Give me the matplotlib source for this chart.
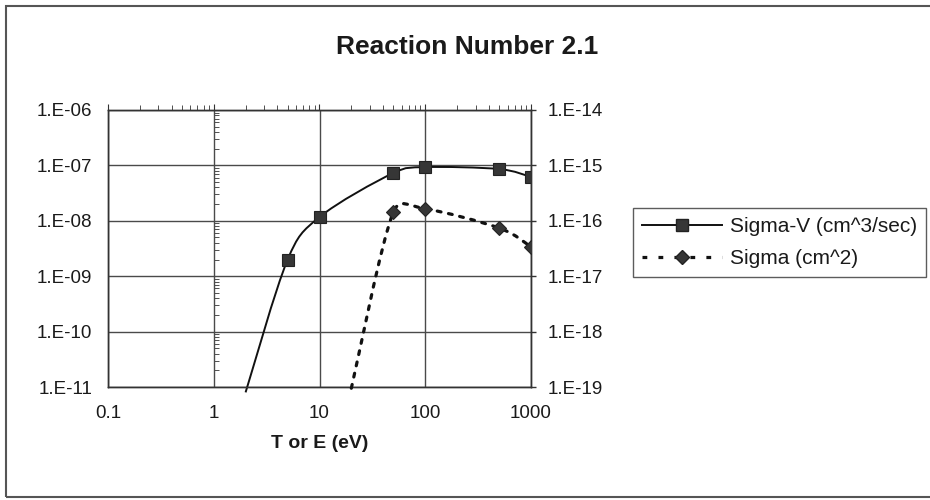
import numpy as np
import matplotlib
matplotlib.use("Agg")
import matplotlib.pyplot as plt
from matplotlib.path import Path
from matplotlib.patches import PathPatch, Rectangle
from matplotlib.lines import Line2D
from matplotlib.ticker import LogLocator, NullFormatter, FixedLocator, FixedFormatter

plt.rcParams['font.family'] = ['Liberation Sans', 'DejaVu Sans']

# ---- data ----
title = "Reaction Number 2.1"
xlabel = "T or E (eV)"
sv_label = "Sigma-V (cm^3/sec)"
s_label = "Sigma (cm^2)"

T_sv = [2, 5, 10, 50, 100, 500, 1000]
sigma_v = [8e-12, 2.0e-9, 1.17e-8, 7.3e-8, 9.3e-8, 8.6e-8, 6.2e-8]

T_s = [20, 50, 100, 500, 1000]
sigma = [9.5e-20, 1.45e-16, 1.65e-16, 7.4e-17, 3.4e-17]

x_ticks = [0.1, 1, 10, 100, 1000]
x_ticklabels = ["0.1", "1", "10", "100", "1000"]
yl_ticks = [1e-11, 1e-10, 1e-9, 1e-8, 1e-7, 1e-6]
yl_ticklabels = ["1.E-11", "1.E-10", "1.E-09", "1.E-08", "1.E-07", "1.E-06"]
yr_ticks = [1e-19, 1e-18, 1e-17, 1e-16, 1e-15, 1e-14]
yr_ticklabels = ["1.E-19", "1.E-18", "1.E-17", "1.E-16", "1.E-15", "1.E-14"]

W, H = 930, 500
fig = plt.figure(figsize=(W / 100, H / 100), dpi=100)

ax_l, ax_r, ax_t, ax_b = 108, 531, 110, 387
ax = fig.add_axes([ax_l / W, 1 - ax_b / H, (ax_r - ax_l) / W, (ax_b - ax_t) / H])
ax2 = ax.twinx()

txt_color = "#1a1a1a"
spine_color = "#333333"

ax.set_xscale('log')
ax.set_yscale('log')
ax2.set_yscale('log')
ax.set_xlim(x_ticks[0], x_ticks[-1])
ax.set_ylim(yl_ticks[0], yl_ticks[-1])
ax2.set_ylim(yr_ticks[0], yr_ticks[-1])

# px per decade for smoothing (screen-space Bezier like Excel)
sx = (ax_r - ax_l) / np.log10(x_ticks[-1] / x_ticks[0])
sy = (ax_b - ax_t) / np.log10(yl_ticks[-1] / yl_ticks[0])


def smooth_path(xs, ys):
    P = np.column_stack([np.log10(xs) * sx, np.log10(ys) * sy])
    n = len(P)
    T = np.zeros_like(P)
    for i in range(n):
        if i == 0:
            T[i] = (P[1] - P[0]) / 6
        elif i == n - 1:
            T[i] = (P[-1] - P[-2]) / 6
        else:
            T[i] = (P[i + 1] - P[i - 1]) / 6
    verts = [P[0]]
    codes = [Path.MOVETO]
    for i in range(n - 1):
        seg = np.linalg.norm(P[i + 1] - P[i])
        t1 = T[i].copy()
        t2 = T[i + 1].copy()
        for t in (t1, t2):
            l = np.linalg.norm(t)
            if l > seg / 2:
                t *= (seg / 2) / l
        verts += [P[i] + t1, P[i + 1] - t2, P[i + 1]]
        codes += [Path.CURVE4] * 3
    V = np.array(verts)
    V = np.column_stack([10 ** (V[:, 0] / sx), 10 ** (V[:, 1] / sy)])
    return Path(V, codes)


line_color = "#111111"
mk_color = "#363636"

# Sigma-V (left axis)
p1 = PathPatch(smooth_path(T_sv, sigma_v), facecolor='none', edgecolor=line_color,
               lw=1.4, clip_on=False, zorder=3)
ax.add_patch(p1)
lo, hi = ax.get_ylim()
xs_m = [x for x, y in zip(T_sv, sigma_v) if lo <= y <= hi]
ys_m = [y for y in sigma_v if lo <= y <= hi]
ax.plot(xs_m, ys_m, linestyle='none', marker='s', markersize=9.2,
        markerfacecolor=mk_color, markeredgecolor='#222222', markeredgewidth=0.8, zorder=4)

# Sigma (right axis)
p2 = PathPatch(smooth_path(T_s, sigma), facecolor='none', edgecolor=line_color,
               lw=2.3, linestyle=(0, (1.2, 2.4)), capstyle='round', clip_on=False, zorder=3)
ax2.add_patch(p2)
lo2, hi2 = ax2.get_ylim()
xs_m2 = [x for x, y in zip(T_s, sigma) if lo2 <= y <= hi2]
ys_m2 = [y for y in sigma if lo2 <= y <= hi2]
ax2.plot(xs_m2, ys_m2, linestyle='none', marker='D', markersize=7.2,
         markerfacecolor=mk_color, markeredgecolor='#222222', markeredgewidth=0.8, zorder=4)

# grid
ax.grid(which='major', color='#4a4a4a', lw=1.0)
ax.set_axisbelow(True)

# ticks / labels
fs = 13.5
ax.xaxis.set_major_locator(FixedLocator(x_ticks))
ax.xaxis.set_major_formatter(FixedFormatter(x_ticklabels))
ax.xaxis.set_minor_locator(LogLocator(base=10, subs=np.arange(2, 10)))
ax.xaxis.set_minor_formatter(NullFormatter())
ax.tick_params(axis='x', which='both', length=0, pad=13, labelsize=fs, colors=txt_color)
ax.yaxis.set_major_locator(FixedLocator(yl_ticks))
ax.yaxis.set_major_formatter(FixedFormatter(yl_ticklabels))
ax.yaxis.set_minor_locator(FixedLocator([]))
ax.tick_params(axis='y', which='both', length=0, pad=11.5, labelsize=fs, colors=txt_color)

ax2.yaxis.set_major_locator(FixedLocator(yr_ticks))
ax2.yaxis.set_major_formatter(FixedFormatter(yr_ticklabels))
ax2.yaxis.set_minor_locator(FixedLocator([]))
ax2.tick_params(axis='y', which='major', length=3.5, width=1, direction='out', pad=8.5,
                labelsize=fs, colors=txt_color)
ax2.tick_params(axis='y', which='major', color=spine_color)

for a in (ax, ax2):
    for sp in a.spines.values():
        sp.set_color(spine_color)
        sp.set_linewidth(1.0)

# top minor ticks (x-axis crosses at top)
secx = ax.secondary_xaxis('top')
secx.xaxis.set_major_locator(FixedLocator(x_ticks))
secx.xaxis.set_major_formatter(NullFormatter())
secx.xaxis.set_minor_locator(LogLocator(base=10, subs=np.arange(2, 10)))
secx.xaxis.set_minor_formatter(NullFormatter())
secx.tick_params(axis='x', which='major', length=4, direction='out', color=spine_color)
secx.tick_params(axis='x', which='minor', length=3.5, direction='out', color=spine_color)
secx.spines['top'].set_visible(False)

# y minor ticks at x = 1 (value axis crosses there)
cross = np.log10(x_ticks[1] / x_ticks[0]) / np.log10(x_ticks[-1] / x_ticks[0])
secy = ax.secondary_yaxis(cross)
secy.yaxis.set_major_locator(FixedLocator(yl_ticks))
secy.yaxis.set_major_formatter(NullFormatter())
secy.yaxis.set_minor_locator(LogLocator(base=10, subs=np.arange(2, 10)))
secy.yaxis.set_minor_formatter(NullFormatter())
secy.tick_params(axis='y', which='major', length=0)
secy.tick_params(axis='y', which='minor', length=3.5, direction='in', color=spine_color)
for sp in secy.spines.values():
    sp.set_visible(False)

# titles
fig.text(467 / W, 1 - 47 / H, title, ha='center', va='center',
         fontsize=19, fontweight='bold', color=txt_color)
fig.text((ax_l + ax_r) / 2 / W, 1 - 443 / H, xlabel, ha='center', va='center',
         fontsize=14, fontweight='bold', color=txt_color)

# legend
h1 = Line2D([], [], color=line_color, lw=1.4, marker='s', markersize=9.2,
            markerfacecolor=mk_color, markeredgecolor='#222222')
h2 = Line2D([], [], color=line_color, lw=2.3, linestyle=(0, (1.5, 3.5)), marker='D',
            markersize=7.2, markerfacecolor=mk_color, markeredgecolor='#222222')
leg = fig.legend([h1, h2], [sv_label, s_label], loc='upper right',
                 bbox_to_anchor=(926 / W, 1 - 208 / H), frameon=True, fancybox=False,
                 edgecolor=spine_color, fontsize=15, handlelength=3.85, handletextpad=0.34,
                 borderpad=0.45, labelspacing=0.6, borderaxespad=0, numpoints=1,
                 labelcolor=txt_color)
leg.get_frame().set_linewidth(1.0)

# outer chart frame
fig.add_artist(Rectangle((6 / W, 3 / H), 935 / W, 491 / H, transform=fig.transFigure,
                         facecolor='none', edgecolor='#555555', lw=1.5, clip_on=False))

fig.savefig("out.png", dpi=100)
